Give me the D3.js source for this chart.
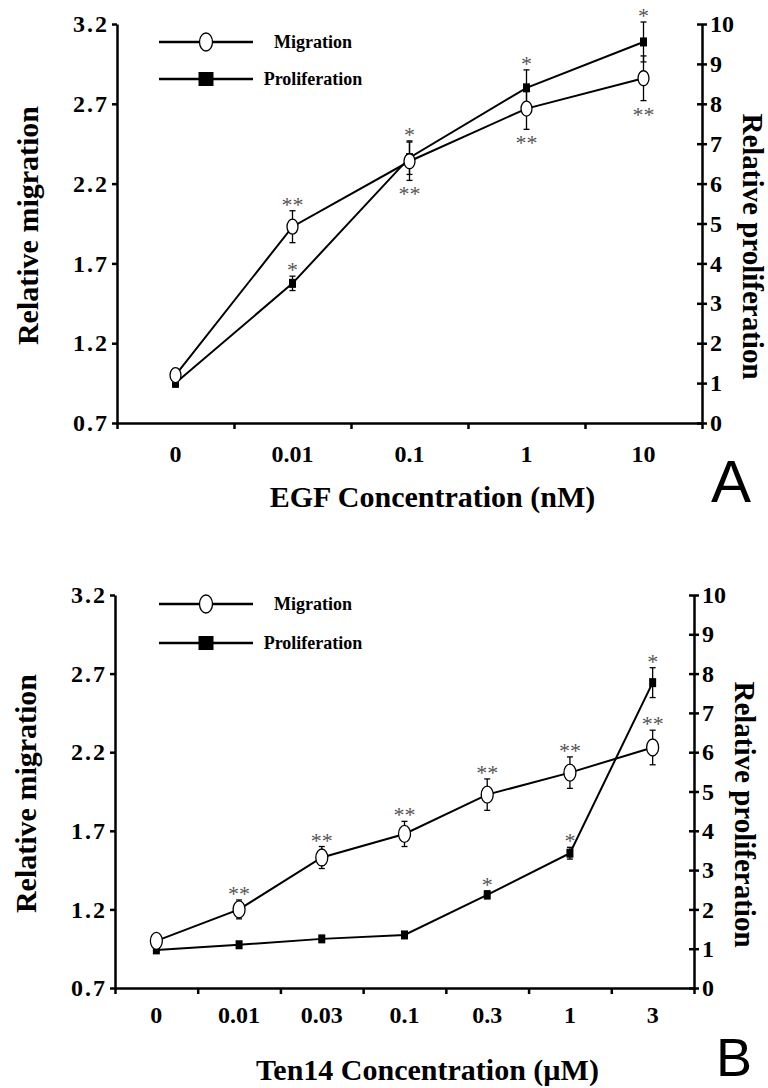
<!DOCTYPE html>
<html>
<head>
<meta charset="utf-8">
<script src="https://cdn.jsdelivr.net/npm/d3@7"></script>
<style>
  body { margin: 0; background: #fff; }
  svg { display: block; }
</style>
</head>
<body>
<svg id="chart" width="768" height="1088"></svg>
<script>
// ---- data ----
var egfDoses = ["0", "0.01", "0.1", "1", "10"];
var egfMigration = [1.0, 1.93, 2.34, 2.67, 2.86];
var egfMigrationErr = [0.03, 0.1, 0.12, 0.13, 0.14];
var egfProliferation = [1.0, 3.5, 6.65, 8.4, 9.55];
var egfProliferationErr = [0.1, 0.18, 0.42, 0.45, 0.5];
var egfMigrationSig = ["", "**", "**", "**", "**"];
var egfMigrationSigSide = ["", "above", "below", "below", "below"];
var egfProliferationSig = ["", "*", "*", "*", "*"];

var tenDoses = ["0", "0.01", "0.03", "0.1", "0.3", "1", "3"];
var tenMigration = [1.0, 1.2, 1.53, 1.68, 1.93, 2.07, 2.23];
var tenMigrationErr = [0.03, 0.06, 0.07, 0.08, 0.1, 0.1, 0.11];
var tenProliferation = [0.97, 1.1, 1.25, 1.35, 2.37, 3.43, 7.77];
var tenProliferationErr = [0.05, 0.05, 0.05, 0.05, 0.1, 0.15, 0.38];
var tenMigrationSig = ["", "**", "**", "**", "**", "**", "**"];
var tenMigrationSigSide = ["", "above", "above", "above", "above", "above", "above"];
var tenProliferationSig = ["", "", "", "", "*", "*", "*"];

var migrationTicks = [0.7, 1.2, 1.7, 2.2, 2.7, 3.2];
var proliferationTicks = [0, 1, 2, 3, 4, 5, 6, 7, 8, 9, 10];

var serif = '"Liberation Serif","Times New Roman",serif';
var svg = d3.select("#chart");

function styleAxis(sel, size) {
    sel.attr("font-family", serif).attr("font-size", size).attr("font-weight", "bold");
    sel.selectAll(".domain").attr("stroke", "#000").attr("stroke-width", 2.5);
    sel.selectAll(".tick line").attr("stroke", "#000").attr("stroke-width", 2.5);
    sel.selectAll(".tick text").attr("fill", "#000");
}

function drawPanel(p) {
    var g = svg.append("g");
    var n = p.doses.length;

    var x = d3.scaleBand().domain(p.doses).range([p.left, p.right]);
    var xEdge = d3.scaleLinear().domain([0, n]).range([p.left, p.right]);
    var yL = d3.scaleLinear().domain([0.7, 3.2]).range([p.bottom, p.top]);
    var yR = d3.scaleLinear().domain([0, 10]).range([p.bottom, p.top]);
    var cx = function (i) { return x(p.doses[i]) + x.bandwidth() / 2; };

    // x axis: tick marks on band edges, labels in the middle
    g.append("g")
        .attr("transform", "translate(0," + p.bottom + ")")
        .call(d3.axisBottom(xEdge).tickValues(d3.range(n + 1)).tickFormat("").tickSize(6).tickSizeOuter(0))
        .call(styleAxis, 24);

    g.append("g")
        .attr("transform", "translate(0," + p.bottom + ")")
        .call(d3.axisBottom(x).tickSize(0).tickPadding(p.xPad))
        .call(styleAxis, 24)
        .select(".domain").remove();

    // left axis
    g.append("g")
        .attr("transform", "translate(" + p.left + ",0)")
        .call(d3.axisLeft(yL).tickValues(migrationTicks).tickFormat(d3.format(".1f")).tickSize(5).tickSizeOuter(0).tickPadding(3))
        .call(styleAxis, 24)
        .selectAll(".tick text").attr("letter-spacing", 2);

    // right axis, ticks cross the line
    var ra = g.append("g")
        .attr("transform", "translate(" + p.right + ",0)")
        .call(d3.axisRight(yR).tickValues(proliferationTicks).tickSize(5).tickSizeOuter(0).tickPadding(3))
        .call(styleAxis, 24);
    ra.selectAll(".tick line").attr("x1", -5).attr("x2", 5);

    // axis titles
    g.append("text")
        .attr("transform", "translate(" + (p.left - 79) + "," + ((p.top + p.bottom) / 2 + 2) + ") rotate(-90)")
        .attr("text-anchor", "middle")
        .attr("font-family", serif).attr("font-weight", "bold").attr("font-size", 30)
        .text("Relative migration");

    g.append("text")
        .attr("transform", "translate(" + (p.right + 41) + "," + ((p.top + p.bottom) / 2 + 23) + ") rotate(90)")
        .attr("text-anchor", "middle")
        .attr("font-family", serif).attr("font-weight", "bold").attr("font-size", 29)
        .text("Relative proliferation");

    g.append("text")
        .attr("x", (p.left + p.right) / 2 + 23)
        .attr("y", p.titleY)
        .attr("text-anchor", "middle")
        .attr("font-family", serif).attr("font-weight", "bold").attr("font-size", 30)
        .text(p.xTitle);

    g.append("text")
        .attr("x", p.letterX).attr("y", p.letterY)
        .attr("font-family", '"Liberation Sans",Arial,sans-serif').attr("font-size", p.letterSize)
        .text(p.letter);

    // lines
    var migLine = d3.line().x(function (d, i) { return cx(i); }).y(function (d) { return yL(d); });
    var proLine = d3.line().x(function (d, i) { return cx(i); }).y(function (d) { return yR(d); });

    g.append("path").attr("d", migLine(p.mig))
        .attr("fill", "none").attr("stroke", "#000").attr("stroke-width", 2);
    g.append("path").attr("d", proLine(p.pro))
        .attr("fill", "none").attr("stroke", "#000").attr("stroke-width", 2);

    // error bars
    function errBars(vals, errs, y) {
        var eb = g.append("g").attr("stroke", "#000").attr("stroke-width", 1.3);
        vals.forEach(function (v, i) {
            var x0 = cx(i), y1 = y(v - errs[i]), y2 = y(v + errs[i]);
            eb.append("line").attr("x1", x0).attr("x2", x0).attr("y1", y1).attr("y2", y2);
            eb.append("line").attr("x1", x0 - 3).attr("x2", x0 + 3).attr("y1", y1).attr("y2", y1);
            eb.append("line").attr("x1", x0 - 3).attr("x2", x0 + 3).attr("y1", y2).attr("y2", y2);
        });
    }
    errBars(p.mig, p.migErr, yL);
    errBars(p.pro, p.proErr, yR);

    // markers
    g.selectAll(".sq").data(p.pro).enter().append("rect")
        .attr("x", function (d, i) { return cx(i) - 3.5; })
        .attr("y", function (d) { return yR(d) - 4.5; })
        .attr("width", 7).attr("height", 9).attr("fill", "#000");

    g.selectAll(".ov").data(p.mig).enter().append("ellipse")
        .attr("cx", function (d, i) { return cx(i); })
        .attr("cy", function (d) { return yL(d); })
        .attr("rx", p.rx).attr("ry", p.ry)
        .attr("fill", "#fff").attr("stroke", "#000").attr("stroke-width", 1.3);

    // significance asterisks
    function stars(vals, errs, y, sig, side) {
        vals.forEach(function (v, i) {
            if (!sig[i]) return;
            var c = side[i] === "below" ? y(v - errs[i]) + 10 : y(v + errs[i]) - 10;
            g.append("text")
                .attr("x", cx(i)).attr("y", c + 11)
                .attr("text-anchor", "middle")
                .attr("font-family", serif).attr("font-size", 22).attr("fill", "#555")
                .text(sig[i]);
        });
    }
    stars(p.mig, p.migErr, yL, p.migSig, p.migSigSide);
    stars(p.pro, p.proErr, yR, p.proSig, p.pro.map(function () { return "above"; }));

    // legend
    var lg = g.append("g");
    [["Migration", p.legendY[0], "circle"], ["Proliferation", p.legendY[1], "square"]].forEach(function (l) {
        lg.append("line").attr("x1", 159).attr("x2", 253).attr("y1", l[1]).attr("y2", l[1])
            .attr("stroke", "#000").attr("stroke-width", 2.7);
        if (l[2] === "circle") {
            lg.append("ellipse").attr("cx", 206).attr("cy", l[1]).attr("rx", 6.5).attr("ry", 9)
                .attr("fill", "#fff").attr("stroke", "#000").attr("stroke-width", 1.3);
        } else {
            lg.append("rect").attr("x", 198.5).attr("y", l[1] - 7).attr("width", 15).attr("height", 14).attr("fill", "#000");
        }
        lg.append("text").attr("x", 313).attr("y", l[1] + 6)
            .attr("text-anchor", "middle")
            .attr("font-family", serif).attr("font-weight", "bold").attr("font-size", 18)
            .text(l[0]);
    });
}

drawPanel({
    doses: egfDoses, mig: egfMigration, migErr: egfMigrationErr,
    pro: egfProliferation, proErr: egfProliferationErr,
    migSig: egfMigrationSig, migSigSide: egfMigrationSigSide, proSig: egfProliferationSig,
    left: 117, right: 702, top: 24, bottom: 423, xPad: 22,
    xTitle: "EGF Concentration (nM)", titleY: 507,
    letter: "A", letterX: 711, letterY: 502, letterSize: 60,
    rx: 5.5, ry: 7.5, legendY: [42, 79]
});

drawPanel({
    doses: tenDoses, mig: tenMigration, migErr: tenMigrationErr,
    pro: tenProliferation, proErr: tenProliferationErr,
    migSig: tenMigrationSig, migSigSide: tenMigrationSigSide, proSig: tenProliferationSig,
    left: 115, right: 694, top: 595, bottom: 988, xPad: 18,
    xTitle: "Ten14 Concentration (\u00b5M)", titleY: 1080,
    letter: "B", letterX: 716, letterY: 1076, letterSize: 54,
    rx: 6, ry: 8.5, legendY: [604, 643]
});
</script>
</body>
</html>
